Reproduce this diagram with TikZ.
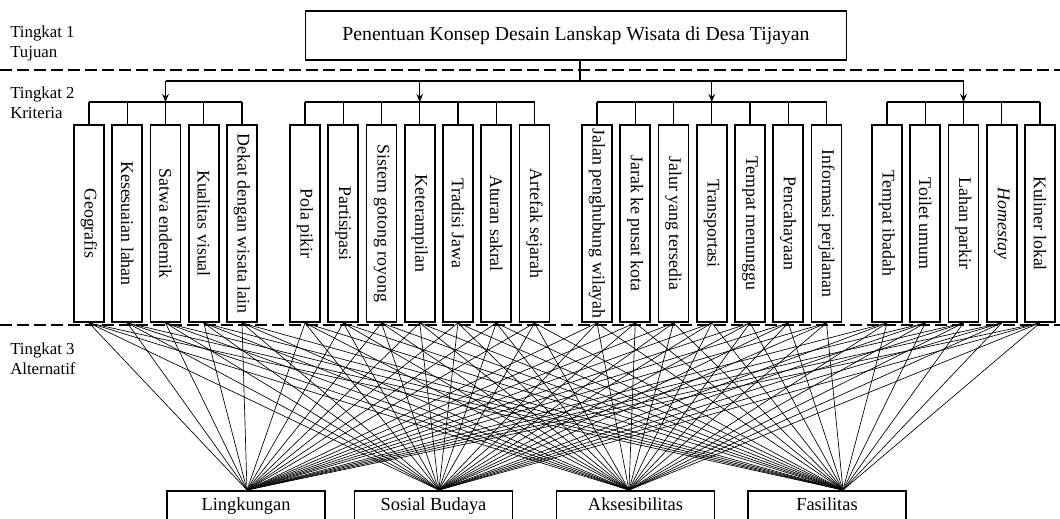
\documentclass[tikz,border=0pt]{standalone}
\usepackage{fontspec}
\setmainfont{Liberation Serif}
\usetikzlibrary{arrows.meta}
\tikzset{
  goalbox/.style={draw,line width=1.4pt,minimum width=405.75pt,minimum height=36.75pt,font=\fontsize{14.8}{17}\selectfont},
  critbox/.style={draw,line width=1.4pt,rotate=-90,minimum width=147.75pt,minimum height=22.5pt,inner xsep=0pt,font=\fontsize{13.4}{16}\selectfont},
  altbox/.style={draw,line width=1.4pt,anchor=north,minimum width=118.5pt,minimum height=24pt,text height=0.72em,text depth=0.22em,font=\fontsize{13.8}{16}\selectfont},
  tag/.style={anchor=west,align=left,inner sep=0pt,font=\fontsize{12.6}{15}\selectfont},
  sepline/.style={line width=2pt,dash pattern=on 9pt off 3.75pt},
  link/.style={line width=1pt},
  fan/.style={line width=0.5pt}
}
\begin{document}
\begin{tikzpicture}[x=0.75pt,y=-0.75pt]
\useasboundingbox (0,0) rectangle (1060,518);
% tingkat
\node[tag] (t1) at (10,43) {Tingkat 1\\Tujuan};
\node[tag] (t2) at (10,103) {Tingkat 2\\Kriteria};
\node[tag] (t3) at (10,359) {Tingkat 3\\Alternatif};
\draw[sepline] (0,70) -- (1060,70);
\draw[sepline] (0,325) -- (1060,325);
% tujuan
\node[goalbox] (goal) at (576,35.5) {Penentuan Konsep Desain Lanskap Wisata di Desa Tijayan};
% kriteria
\foreach \x/\t [count=\i] in {89/Geografis,127.25/Kesesuaian lahan,165.5/Satwa endemik,203.75/Kualitas visual,242/Dekat dengan wisata lain,
  305/Pola pikir,343.25/Partisipasi,381.5/Sistem gotong royong,419.75/Keterampilan,458/Tradisi Jawa,496.25/Aturan sakral,534.5/Artefak sejarah,
  597/Jalan penghubung wilayah,635.25/Jarak ke pusat kota,673.5/Jalur yang tersedia,711.75/Transportasi,750/Tempat menunggu,788.25/Pencahayaan,826.5/Informasi perjalanan,
  887/Tempat ibadah,925.25/Toilet umum,963.5/Lahan parkir,1001.75/\textit{Homestay},1040/Kuliner lokal}
  \node[critbox] (k\i) at (\x,223.5) {\t};
\coordinate (trunk) at (0,81);
\coordinate (bar) at (0,102);
\draw[link] ([xshift=3pt]goal.south) -- ([xshift=3pt]goal.south |- trunk);
\draw[link] (trunk -| k3) -- (trunk -| k22);
\foreach \m in {3,9,16,22}
  \draw[link,-{Stealth[length=6pt,width=5pt]}] (trunk -| k\m) -- (bar -| k\m);
\draw[link] (bar -| k1) -- (bar -| k5);
\draw[link] (bar -| k6) -- (bar -| k12);
\draw[link] (bar -| k13) -- (bar -| k19);
\draw[link] (bar -| k20) -- (bar -| k24);
\foreach \i in {1,...,24}
  \draw[link] (k\i.west) -- (bar -| k\i);
% alternatif
\node[altbox] (a1) at (246,490) {Lingkungan};
\node[altbox] (a2) at (433.5,490) {Sosial Budaya};
\node[altbox] (a3) at (635.5,490) {Aksesibilitas};
\node[altbox] (a4) at (827,490) {Fasilitas};
\coordinate (p1) at ([xshift=0.75pt]a1.north);
\coordinate (p2) at ([xshift=4pt]a2.north);
\coordinate (p3) at ([xshift=-4.9pt]a3.north);
\coordinate (p4) at ([xshift=12pt]a4.north);
\foreach \i in {1,...,24}
  \foreach \j in {1,...,4}
    \draw[fan] (k\i.east) -- (p\j);
\end{tikzpicture}
\end{document}
